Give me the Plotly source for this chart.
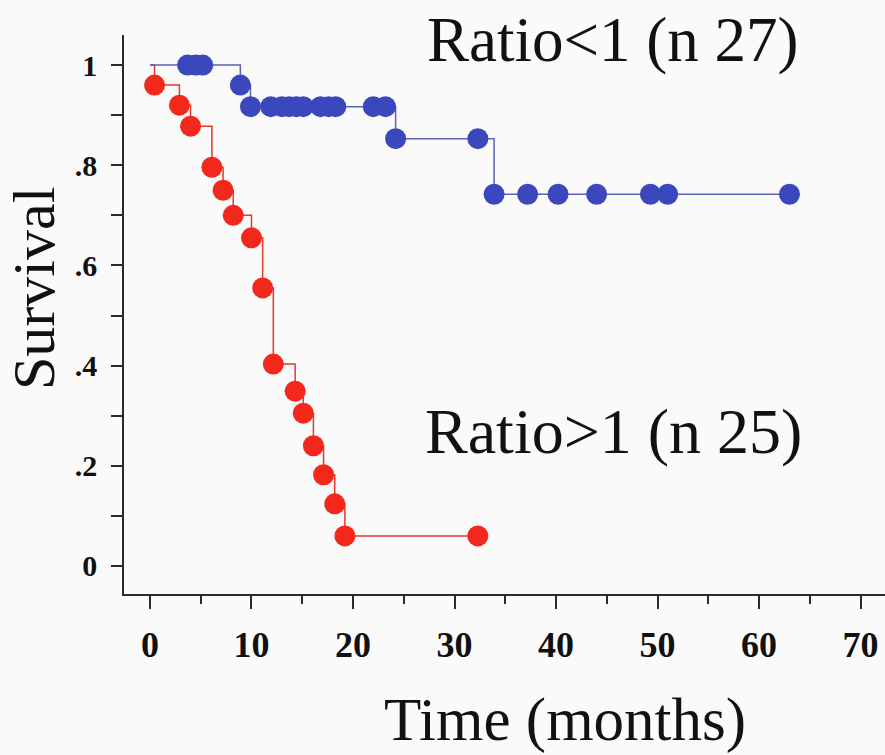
import plotly.graph_objects as go

# Ratio<1 group (blue)
blue_time = [3.7, 4.5, 5.2, 8.9, 9.9, 11.9, 13.0, 13.7, 14.4, 15.1, 16.8, 17.6, 18.3, 22.0, 23.2,
             24.2, 32.3, 33.9, 37.2, 40.2, 44.0, 49.3, 51.0, 63.0]
blue_surv = [1.0, 1.0, 1.0, 0.96, 0.917, 0.917, 0.917, 0.917, 0.917, 0.917, 0.917, 0.917, 0.917, 0.917, 0.917,
             0.853, 0.853, 0.742, 0.742, 0.742, 0.742, 0.742, 0.742, 0.742]

# Ratio>1 group (red)
red_time = [0.45, 2.9, 4.0, 6.1, 7.2, 8.2, 10.0, 11.1, 12.15, 14.3, 15.1, 16.1, 17.1, 18.2, 19.2, 32.3]
red_surv = [0.96, 0.92, 0.878, 0.796, 0.75, 0.70, 0.655, 0.555, 0.403, 0.349, 0.305, 0.24, 0.182, 0.124, 0.06, 0.06]

x_tickvals = [0, 10, 20, 30, 40, 50, 60, 70]
x_ticktext = ["0", "10", "20", "30", "40", "50", "60", "70"]
y_tickvals = [0, 0.2, 0.4, 0.6, 0.8, 1.0]
y_ticktext = ["0", ".2", ".4", ".6", ".8", "1"]

BLUE_DOT = "#3b47bd"
BLUE_LINE = "#5c63b4"
RED_DOT = "#f2281c"
RED_LINE = "#e23a2c"
SERIF = "Liberation Serif"

fig = go.Figure()

fig.add_trace(go.Scatter(x=[0] + red_time, y=[1.0] + red_surv, mode="lines",
                         line=dict(shape="hv", color=RED_LINE, width=1.5), hoverinfo="skip"))
fig.add_trace(go.Scatter(x=[0] + blue_time, y=[1.0] + blue_surv, mode="lines",
                         line=dict(shape="hv", color=BLUE_LINE, width=1.5), hoverinfo="skip"))
fig.add_trace(go.Scatter(x=red_time, y=red_surv, mode="markers",
                         marker=dict(size=21, color=RED_DOT, line=dict(width=0))))
fig.add_trace(go.Scatter(x=blue_time, y=blue_surv, mode="markers",
                         marker=dict(size=21, color=BLUE_DOT, line=dict(width=0))))

W, H = 885, 755
L, R, T, B = 124, 0, 35, 161
pw, ph = W - L - R, H - T - B


def px(x):
    return (x - L) / pw


def py(y):
    return (H - B - y) / ph


fig.update_layout(
    width=W, height=H,
    margin=dict(l=L, r=R, t=T, b=B),
    paper_bgcolor="#fafafa", plot_bgcolor="#fafafa",
    showlegend=False,
    xaxis=dict(range=[-2.56, 72.41], showgrid=False, zeroline=False,
               showline=True, linecolor="#2a2a2a", linewidth=1.5,
               tickmode="array", tickvals=x_tickvals, ticktext=x_ticktext,
               ticks="outside", ticklen=13, tickwidth=1.5, tickcolor="#2a2a2a",
               ticklabelstandoff=5,
               tickfont=dict(family=SERIF, size=36, color="#111", weight="bold"),
               minor=dict(tickmode="linear", tick0=0, dtick=5, ticks="outside", ticklen=8,
                          tickwidth=1.5, tickcolor="#2a2a2a")),
    yaxis=dict(range=[-0.056, 1.06], showgrid=False, zeroline=False,
               showline=True, linecolor="#2a2a2a", linewidth=1.5,
               tickmode="array", tickvals=y_tickvals, ticktext=y_ticktext,
               ticks="outside", ticklen=11, tickwidth=1.5, tickcolor="#2a2a2a",
               ticklabelstandoff=8,
               tickfont=dict(family=SERIF, size=30, color="#111", weight="bold"),
               minor=dict(tickmode="linear", tick0=0, dtick=0.1, ticks="outside", ticklen=11,
                          tickwidth=1.5, tickcolor="#2a2a2a")),
    annotations=[
        dict(text="Ratio&lt;1 (n 27)", xref="paper", yref="paper", x=px(612), y=py(40),
             xanchor="center", yanchor="middle", showarrow=False,
             font=dict(family=SERIF, size=63, color="#111")),
        dict(text="Ratio&gt;1 (n 25)", xref="paper", yref="paper", x=px(613), y=py(431),
             xanchor="center", yanchor="middle", showarrow=False,
             font=dict(family=SERIF, size=64, color="#111")),
        dict(text="Time (months)", xref="paper", yref="paper", x=px(565), y=py(720),
             xanchor="center", yanchor="middle", showarrow=False,
             font=dict(family=SERIF, size=61, color="#111")),
        dict(text="Survival", xref="paper", yref="paper", x=px(34), y=py(289),
             xanchor="center", yanchor="middle", showarrow=False, textangle=-90,
             font=dict(family=SERIF, size=60, color="#111")),
    ],
)

fig.write_html("out.html")
